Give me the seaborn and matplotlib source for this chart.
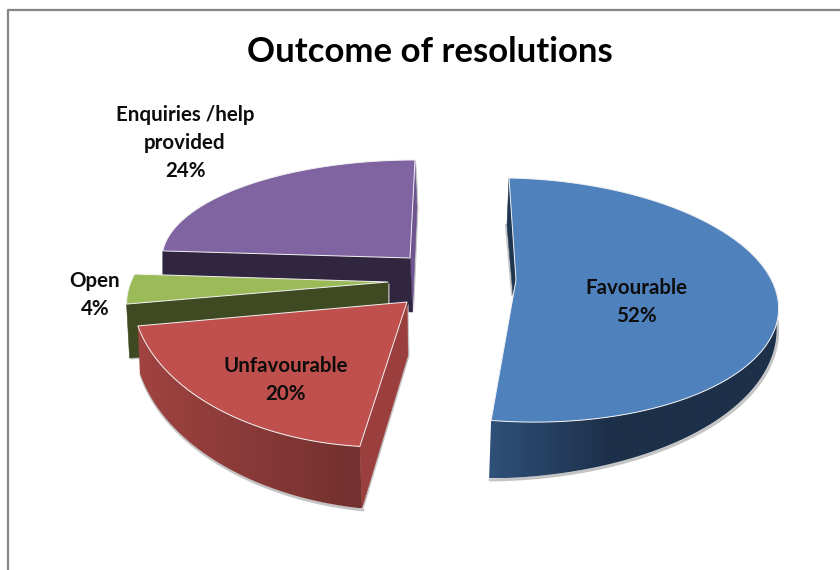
import numpy as np
import matplotlib
matplotlib.use("Agg")
import matplotlib.pyplot as plt
import seaborn as sns
from matplotlib.colors import LinearSegmentedColormap
from matplotlib.patches import Polygon

# ---- data ----
title = "Outcome of resolutions"
labels = ["Favourable", "Unfavourable", "Open", "Enquiries /help\nprovided"]
shares = [52, 20, 4, 24]

# ---- styling and layout of each slice (perspective-projected ellipse) ----
top_colors = ["#4f81bd", "#c0504d", "#9bbb59", "#8064a2"]
apex = [(516, 280), (407, 302), (388, 282), (410, 258)]
# cx, cy, rx, ry, shear-x, shear-y
ellipse = [(516.5, 300, 262, 122, -7.5, 5),
           (384, 292, 252, 155, -7.5, -5),
           (389, 281.6, 258, 120, 48, 0),
           (410, 257, 248, 97, 5, 0)]
label_xy = [(636, 302.5), (286, 380.5), (95, 295), (185, 143)]

sns.set_theme(style="white")
plt.rcParams["font.family"] = ["Lato", "DejaVu Sans"]
palette = sns.color_palette(top_colors)

fig = plt.figure(figsize=(8.4, 5.7), dpi=100, facecolor="white")
ax = fig.add_axes([0, 0, 1, 1])
ax.axis("off")

# chart frame (runs off the right and bottom of the picture)
ax.plot([8, 8, 840], [570, 10, 10], color="#868686", lw=1.6, zorder=0)

edges = np.concatenate([[0], np.cumsum(shares)]) * 3.6


def arc(i, t0, t1, n=120):
    cx, cy, rx, ry, sx, sy = ellipse[i]
    t = np.radians(np.linspace(t0, t1, n))
    return cx + rx * np.sin(t) + sx * np.cos(t), cy - ry * np.cos(t) + sy * np.sin(t)


def top_face(i, z):
    x, y = arc(i, edges[i], edges[i + 1])
    ax.fill(np.r_[apex[i][0], x], np.r_[apex[i][1], y], color=palette[i],
            ec="#f2f2f2", lw=0.7, zorder=z, joinstyle="round")


def outer_wall(i, t0, t1, d_t, d_v, dx, c0, c1, x0, x1, z):
    x, y = arc(i, t0, t1, 160)
    d = np.interp(np.linspace(t0, t1, 160), d_t, d_v)
    xb, yb = x + dx, y + d
    ax.plot(xb + 1, yb + 1.5, color="#c4c4c4", lw=2.2, zorder=z - 0.1, solid_capstyle="round")
    px = np.r_[x, xb[::-1]]
    py = np.r_[y, yb[::-1]]
    cmap = LinearSegmentedColormap.from_list("wall", [c0, c1])
    patch = Polygon(np.c_[px, py], closed=True, transform=ax.transData, fc="none", ec="none")
    ax.add_patch(patch)
    lo, hi = px.min(), px.max()
    xs = np.linspace(lo, hi, 400)
    grad = np.clip((xs - x0) / (x1 - x0), 0, 1)[None, :]
    im = ax.imshow(grad, extent=(lo, hi, py.max(), py.min()), cmap=cmap, vmin=0, vmax=1,
                   aspect="auto", origin="upper", zorder=z)
    im.set_clip_path(patch)


def flat(px, py, color, z, shadow=False):
    if shadow:
        ax.fill(np.array(px) + 1.5, np.array(py) + 1.5, color="#c8c8c8", lw=0, zorder=z - 0.1)
    ax.fill(px, py, color=color, ec=color, lw=0.4, zorder=z)


def end_pt(i, t):
    x, y = arc(i, t, t, 1)
    return x[0], y[0]


# --- Enquiries slice (back) ---
ax_, ay_ = apex[3]
lx, ly = end_pt(3, edges[3])
rx_, ry_ = end_pt(3, edges[4])
flat([rx_, ax_, ax_ + 2.5, rx_ + 2], [ry_, ay_, ay_ + 54, ry_ + 47], "#6f5590", 1, shadow=True)
flat([lx, ax_, ax_ + 2.5, lx], [ly, ay_, ay_ + 54, ly + 54], "#31263f", 1.2)
top_face(3, 2)

# --- Open slice ---
ax_, ay_ = apex[2]
lx, ly = end_pt(2, edges[2])
flat([lx, ax_, ax_, lx + 3], [ly, ay_, ay_ + 53, ly + 54], "#3f4a22", 3, shadow=True)
top_face(2, 4)

# --- Unfavourable slice ---
ax_, ay_ = apex[1]
fx, fy = end_pt(1, edges[1])
flat([ax_, fx, fx + 2, ax_ + 1], [ay_, fy, fy + 62, ay_ + 53], "#9a3f3d", 5, shadow=True)
outer_wall(1, edges[1], edges[2], [edges[1], edges[2]], [62, 47], 2,
           "#72302e", "#a04341", 360, 140, 5.2)
top_face(1, 6)

# --- Favourable slice ---
ax_, ay_ = apex[0]
tx, ty = end_pt(0, edges[0])
flat([tx, ax_, ax_ - 3, tx - 2], [ty, ay_, ay_ + 15, ty + 47], "#1f3651", 7, shadow=False)
ax.plot([tx - 3, ax_ - 4], [ty + 47, ay_ + 15], color="#c8c8c8", lw=1.5, zorder=6.9)
outer_wall(0, 60, edges[1], [90, edges[1]], [20, 58], -2,
           "#1d3049", "#2f5078", 610, 490, 7)
top_face(0, 8)

# --- text ---
text_kw = dict(ha="center", va="center", color="#0d0d0d", fontweight="bold",
               fontsize=14.8, linespacing=1.5, zorder=20)
for name, v, (tx_, ty_) in zip(labels, shares, label_xy):
    ax.text(tx_, ty_, f"{name}\n{v}%", **text_kw)
ax.text(430, 51.5, title, ha="center", va="center", color="black",
        fontweight="bold", fontsize=25, zorder=20)

ax.set_xlim(0, 840)
ax.set_ylim(570, 0)
ax.set_aspect("auto")

fig.savefig("out.png", dpi=100)
